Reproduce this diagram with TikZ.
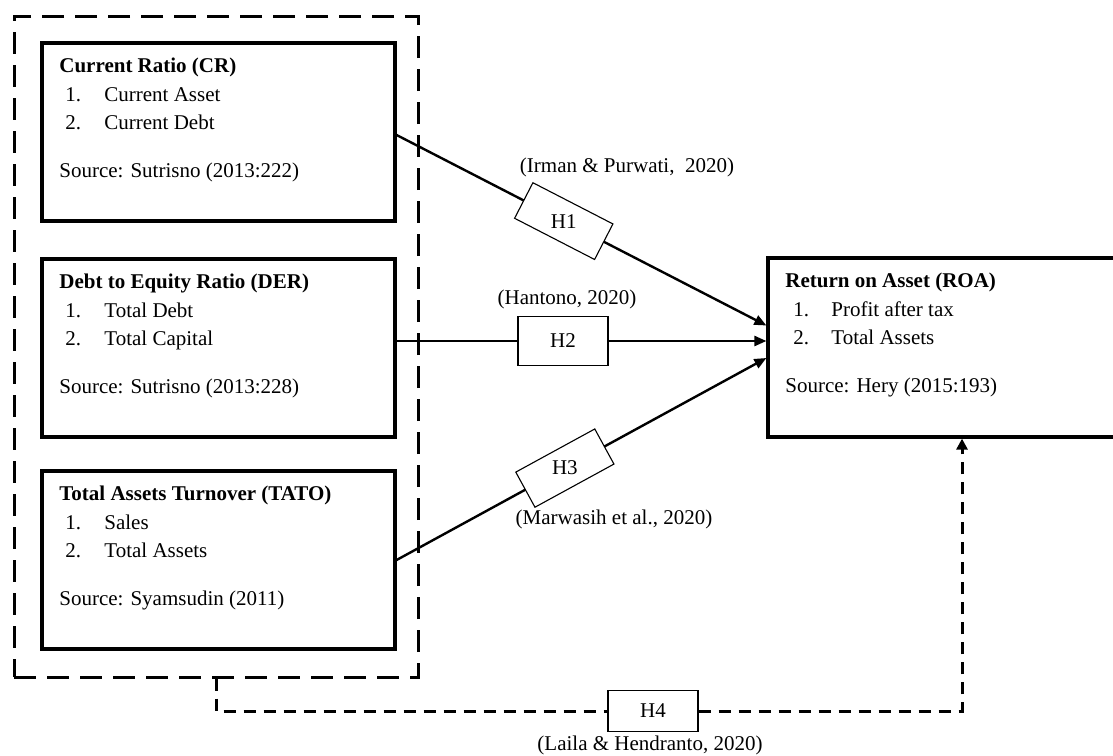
\documentclass[tikz,border=0pt]{standalone}
\usepackage{fontspec}
\setmainfont{Liberation Serif}
\usetikzlibrary{arrows.meta,calc}
\begin{document}
\begin{tikzpicture}[x=1pt,y=-1pt,
  every node/.style={font=\fontsize{21}{25}\selectfont, inner sep=0pt},
  varbox/.style={draw, line width=3.2pt, minimum width=353pt, minimum height=178pt},
  roabox/.style={draw, line width=3.2pt, minimum width=388pt, minimum height=179pt},
  groupbox/.style={draw, line width=3pt, dash pattern=on 22pt off 11pt, minimum width=404pt, minimum height=661pt},
  txt/.style={anchor=base west, outer sep=0pt},
  conn/.style={line width=2.4pt, -{Triangle[length=12pt,width=10pt]}},
  hbox/.style={draw, fill=white, line width=1.1pt, minimum width=90pt, minimum height=40pt},
  hboxb/.style={draw, fill=white, line width=1.1pt, minimum width=90pt, minimum height=49pt},
  h4line/.style={line width=3pt, dash pattern=on 12pt off 8pt},
  lbl/.style={font=\fontsize{21}{25}\selectfont}
]
\useasboundingbox (0,0) rectangle (1113,755);
\clip (0,0) rectangle (1113,755);

% group of independent variables
\node[groupbox] (grp) at (216,346.5) {};

% variable boxes
\node[varbox] (cr) at (218.5,132) {};
\node[varbox] (der) at (218.5,348) {};
\node[varbox] (tato) at (218.5,560) {};
\node[roabox] (roa) at (962,347.5) {};

% CR text
\node[txt] (crt) at ($(cr.north west)+(19,31)$) {\textbf{Current Ratio (CR)}};
\node[txt] (cr1n) at ($(cr.north west)+(25,60)$) {1.};
\node[txt] (cr1) at ($(cr.north west)+(64,60)$) {Current Asset};
\node[txt] (cr2n) at ($(cr.north west)+(25,88)$) {2.};
\node[txt] (cr2) at ($(cr.north west)+(64,88)$) {Current Debt};
\node[txt] (crs) at ($(cr.north west)+(19,136)$) {Source: Sutrisno (2013:222)};

% DER text
\node[txt] (dert) at ($(der.north west)+(19,31)$) {\textbf{Debt to Equity Ratio (DER)}};
\node[txt] (der1n) at ($(der.north west)+(25,60)$) {1.};
\node[txt] (der1) at ($(der.north west)+(64,60)$) {Total Debt};
\node[txt] (der2n) at ($(der.north west)+(25,88)$) {2.};
\node[txt] (der2) at ($(der.north west)+(64,88)$) {Total Capital};
\node[txt] (ders) at ($(der.north west)+(19,136)$) {Source: Sutrisno (2013:228)};

% TATO text
\node[txt] (tatot) at ($(tato.north west)+(19,31)$) {\textbf{Total Assets Turnover (TATO)}};
\node[txt] (tato1n) at ($(tato.north west)+(25,60)$) {1.};
\node[txt] (tato1) at ($(tato.north west)+(64,60)$) {Sales};
\node[txt] (tato2n) at ($(tato.north west)+(25,88)$) {2.};
\node[txt] (tato2) at ($(tato.north west)+(64,88)$) {Total Assets};
\node[txt] (tatos) at ($(tato.north west)+(19,136)$) {Source: Syamsudin (2011)};

% ROA text
\node[txt] (roat) at ($(roa.north west)+(19,31)$) {\textbf{Return on Asset (ROA)}};
\node[txt] (roa1n) at ($(roa.north west)+(27,60)$) {1.};
\node[txt] (roa1) at ($(roa.north west)+(65,60)$) {Profit after tax};
\node[txt] (roa2n) at ($(roa.north west)+(27,88)$) {2.};
\node[txt] (roa2) at ($(roa.north west)+(65,88)$) {Total Assets};
\node[txt] (roas) at ($(roa.north west)+(19,136)$) {Source: Hery (2015:193)};

% H1
\coordinate (h1s) at ($(cr.east)+(0,3)$);
\coordinate (h1e) at ($(roa.west)+(0,-22)$);
\draw[conn] (h1s) -- node[hbox, sloped, pos=0.452] (h1b) {} (h1e);
\node (h1t) at (h1b) {H1};
\node[lbl] (l1) at (627,167) {(Irman \& Purwati,\ \ 2020)};

% H2
\coordinate (h2s) at ($(der.east)+(0,-7)$);
\draw[conn] (h2s) -- node[hboxb, pos=0.45] (h2b) {H2} (h2s -| roa.west);
\node[lbl] (l2) at (567,299) {(Hantono, 2020)};

% H3
\coordinate (h3e) at ($(roa.west)+(0,10.5)$);
\draw[conn] (tato.east) -- node[hbox, sloped, pos=0.455] (h3b) {} (h3e);
\node (h3t) at (h3b) {H3};
\node[lbl] (l3) at (614,519) {(Marwasih et al., 2020)};

% H4
\node[draw, fill=white, line width=1.1pt, minimum width=90pt, minimum height=41pt] (h4b) at (653,711) {H4};
\draw[h4line] (grp.south) |- (h4b.west);
\draw[h4line, -{Triangle[length=11pt,width=11pt]}] (h4b.east) -| (roa.south);
\node[lbl] (l4) at (650,745) {(Laila \& Hendranto, 2020)};
\end{tikzpicture}
\end{document}
